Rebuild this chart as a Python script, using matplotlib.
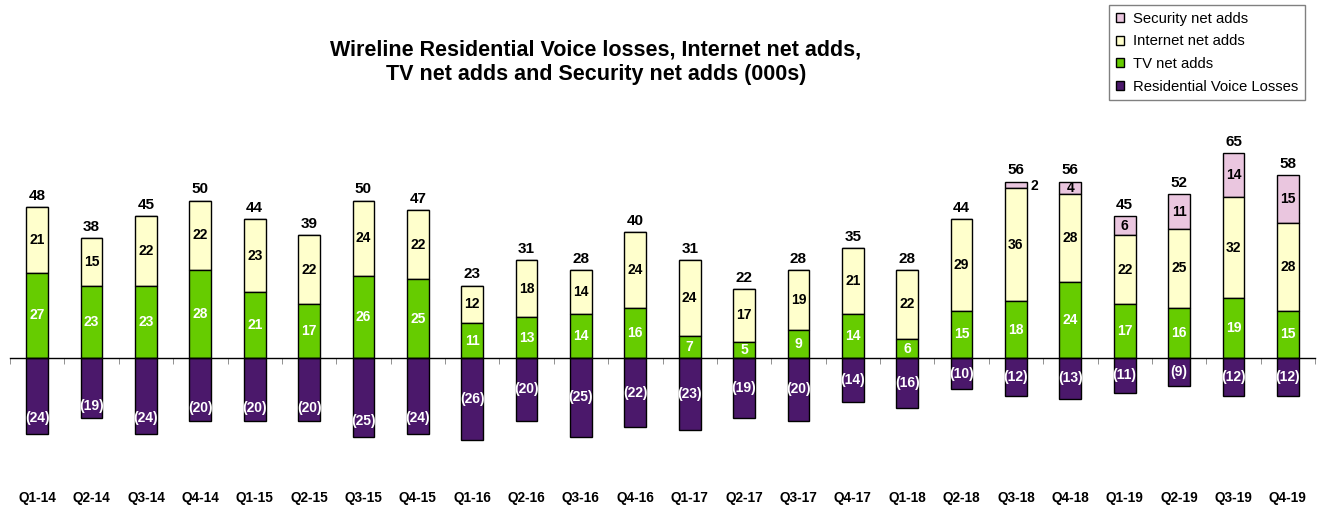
import numpy as np
import matplotlib.pyplot as plt

plt.rcParams['font.family'] = ['Liberation Sans', 'DejaVu Sans']

quarters = ['Q1-14', 'Q2-14', 'Q3-14', 'Q4-14', 'Q1-15', 'Q2-15', 'Q3-15', 'Q4-15',
            'Q1-16', 'Q2-16', 'Q3-16', 'Q4-16', 'Q1-17', 'Q2-17', 'Q3-17', 'Q4-17',
            'Q1-18', 'Q2-18', 'Q3-18', 'Q4-18', 'Q1-19', 'Q2-19', 'Q3-19', 'Q4-19']
tv = [27, 23, 23, 28, 21, 17, 26, 25, 11, 13, 14, 16, 7, 5, 9, 14, 6, 15, 18, 24, 17, 16, 19, 15]
internet = [21, 15, 22, 22, 23, 22, 24, 22, 12, 18, 14, 24, 24, 17, 19, 21, 22, 29, 36, 28, 22, 25, 32, 28]
security = [0, 0, 0, 0, 0, 0, 0, 0, 0, 0, 0, 0, 0, 0, 0, 0, 0, 0, 2, 4, 6, 11, 14, 15]
voice = [24, 19, 24, 20, 20, 20, 25, 24, 26, 20, 25, 22, 23, 19, 20, 14, 16, 10, 12, 13, 11, 9, 12, 12]
totals = [48, 38, 45, 50, 44, 39, 50, 47, 23, 31, 28, 40, 31, 22, 28, 35, 28, 44, 56, 56, 45, 52, 65, 58]

c_voice = '#4b186b'
c_tv = '#66cc00'
c_int = '#ffffcc'
c_sec = '#eac6df'

tv = np.array(tv)
internet = np.array(internet)
security = np.array(security)
voice = -np.array(voice)
x = np.arange(len(quarters))
w = 0.4

fig = plt.figure(figsize=(13.17, 5.08), dpi=100)
ax = fig.add_axes([10 / 1317, 0.1093, 1305 / 1317, 0.62])
ax.set_xlim(-0.5, len(quarters) - 0.5)
ax.set_ylim(-30, 70)

kw = dict(width=w, edgecolor='black', linewidth=1, zorder=3)
b_sec = ax.bar(x, security, bottom=tv + internet, color=c_sec, label='Security net adds', **kw)
b_int = ax.bar(x, internet, bottom=tv, color=c_int, label='Internet net adds', **kw)
b_tv = ax.bar(x, tv, color=c_tv, label='TV net adds', **kw)
b_voice = ax.bar(x, voice, color=c_voice, label='Residential Voice Losses', **kw)

lab = dict(ha='center', va='center', fontsize=10, fontweight='bold', zorder=5)
for i in x:
    ax.text(i, tv[i] / 2, str(tv[i]), color='white', **lab)
    ax.text(i, tv[i] + internet[i] / 2, str(internet[i]), color='black', **lab)
    if security[i] > 3:
        ax.text(i, tv[i] + internet[i] + security[i] / 2, str(security[i]), color='black', **lab)
    elif security[i] > 0:
        ax.annotate(str(security[i]), (i, tv[i] + internet[i] + security[i] / 2),
                    xytext=(13, -1), textcoords='offset points', color='black', **lab)
    frac = 0.8 if i < 8 else 0.5
    ax.text(i, voice[i] * frac, '(%d)' % -voice[i], color='white', **lab)
    ax.annotate(str(totals[i]), (i, totals[i]), xytext=(0, 3), textcoords='offset points',
                ha='center', va='bottom', fontsize=11, fontweight='bold')

for s in ['top', 'right', 'left']:
    ax.spines[s].set_visible(False)
ax.spines['bottom'].set_position(('data', 0))
ax.spines['bottom'].set_linewidth(1)
ax.spines['bottom'].set_zorder(4)
ax.set_yticks([])
ax.set_xticks(x)
ax.set_xticklabels(quarters, fontsize=9.8, fontweight='bold')
ax.tick_params(axis='x', which='major', length=0, pad=96)
ax.set_xticks(np.arange(len(quarters) + 1) - 0.5, minor=True)
ax.tick_params(axis='x', which='minor', direction='out', length=4, color='#808080')

fig.text(596 / 1317, 1 - 62 / 508,
         'Wireline Residential Voice losses, Internet net adds,\nTV net adds and Security net adds (000s)',
         ha='center', va='center', fontsize=15.5, fontweight='bold', linespacing=1.2)

leg = fig.legend(handles=[b_sec, b_int, b_tv, b_voice], loc='upper right',
                 bbox_to_anchor=(1305 / 1317, 1 - 5 / 508), fontsize=10.7,
                 handlelength=0.55, handleheight=0.55, handletextpad=0.6,
                 labelspacing=0.58, borderpad=0.45, borderaxespad=0,
                 fancybox=False, framealpha=1)
leg.get_frame().set_edgecolor('#808080')
leg.get_frame().set_linewidth(1)

fig.savefig('out.png', dpi=100)
